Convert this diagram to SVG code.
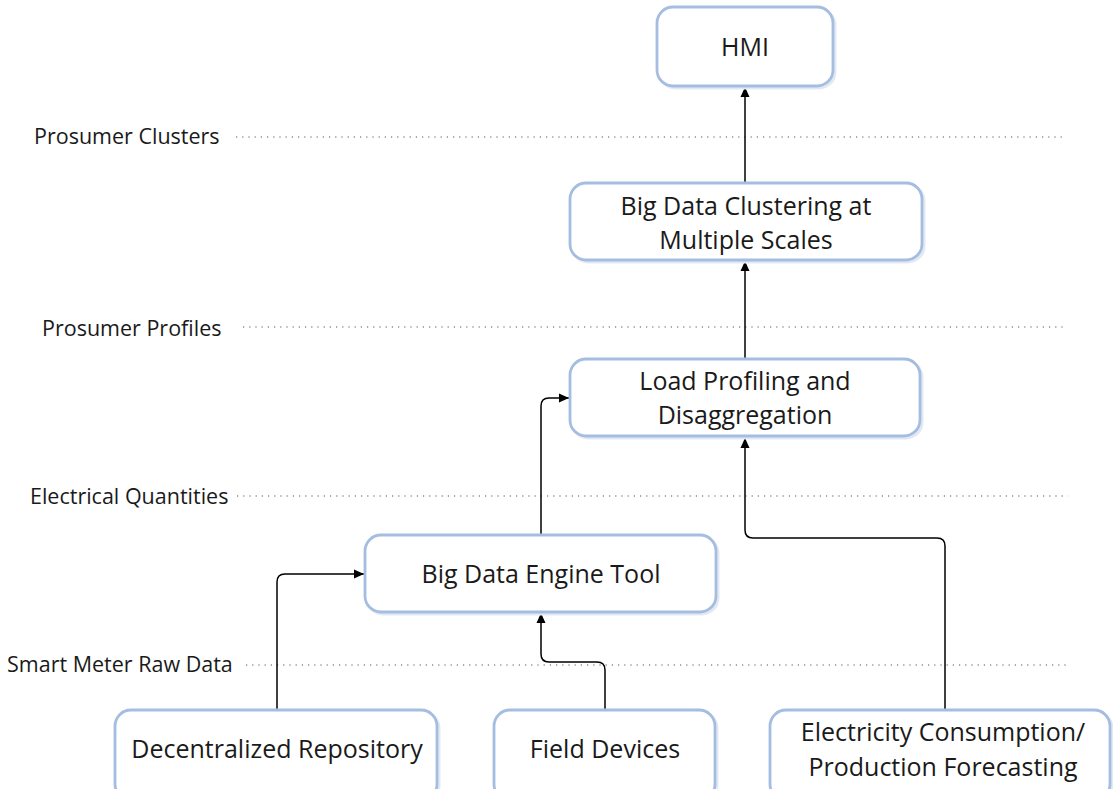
<svg xmlns="http://www.w3.org/2000/svg" width="1113" height="789" viewBox="0 0 1113 789">
  <style>
    .box { fill: #ffffff; stroke: #a4bde0; stroke-width: 2.8; }
    .shadow { fill: none; stroke: #e3e9f2; stroke-width: 3; }
    .label { font-family: "Open Sans", "Liberation Sans", sans-serif; font-size: 25px; fill: #1a1a1a; text-anchor: middle; }
    .layer { font-family: "Open Sans", "Liberation Sans", sans-serif; font-size: 21.5px; fill: #1a1a1a; }
    .dots { stroke: #555; stroke-width: 1.2; stroke-dasharray: 1.2 5; fill: none; }
    .conn { stroke: #000; stroke-width: 1.5; fill: none; }
  </style>
  <defs>
    <marker id="arrow" markerWidth="11" markerHeight="11" refX="10" refY="5.5" orient="auto" markerUnits="userSpaceOnUse">
      <path d="M0,1 L10,5.5 L0,10 z" fill="#000"/>
    </marker>
  </defs>

  <rect width="1113" height="789" fill="#ffffff"/>

  <!-- layer guides -->
  <g id="layers">
    <text class="layer" x="34" y="144">Prosumer Clusters</text>
    <line class="dots" x1="236" y1="137" x2="1066" y2="137"/>
    <text class="layer" x="42" y="336">Prosumer Profiles</text>
    <line class="dots" x1="243" y1="327" x2="1066" y2="327"/>
    <text class="layer" x="30" y="504">Electrical Quantities</text>
    <line class="dots" x1="237" y1="496" x2="1068" y2="496"/>
    <text class="layer" x="7" y="672">Smart Meter Raw Data</text>
    <line class="dots" x1="246" y1="665" x2="1068" y2="665"/>
  </g>

  <!-- connectors -->
  <g id="connectors">
    <line class="conn" x1="745" y1="183" x2="745" y2="87" marker-end="url(#arrow)"/>
    <line class="conn" x1="745" y1="359" x2="745" y2="261" marker-end="url(#arrow)"/>
    <path class="conn" d="M541,535 V406 Q541,398 549,398 H569" marker-end="url(#arrow)"/>
    <path class="conn" d="M945,710 V546 Q945,538 937,538 H753 Q745,538 745,530 V438" marker-end="url(#arrow)"/>
    <path class="conn" d="M277,710 V582 Q277,574 285,574 H364" marker-end="url(#arrow)"/>
    <path class="conn" d="M605,710 V670 Q605,662 597,662 H549 Q541,662 541,654 V613" marker-end="url(#arrow)"/>
  </g>

  <g id="hmi">
    <rect class="shadow" x="659" y="9" width="176" height="79" rx="16"/>
    <rect class="box" x="657" y="7" width="176" height="79" rx="16"/>
    <text class="label" x="745" y="56">HMI</text>
  </g>

  <g id="clustering">
    <rect class="shadow" x="572" y="185" width="352" height="77" rx="16"/>
    <rect class="box" x="570" y="183" width="352" height="77" rx="16"/>
    <text class="label" x="746" y="215">Big Data Clustering at</text>
    <text class="label" x="746" y="249">Multiple Scales</text>
  </g>

  <g id="load-profiling">
    <rect class="shadow" x="572" y="361" width="350" height="77" rx="16"/>
    <rect class="box" x="570" y="359" width="350" height="77" rx="16"/>
    <text class="label" x="745" y="390">Load Profiling and</text>
    <text class="label" x="745" y="424">Disaggregation</text>
  </g>

  <g id="engine">
    <rect class="shadow" x="367" y="537" width="351" height="77" rx="16"/>
    <rect class="box" x="365" y="535" width="351" height="77" rx="16"/>
    <text class="label" x="541" y="583">Big Data Engine Tool</text>
  </g>

  <g id="repository">
    <rect class="shadow" x="117" y="712" width="322" height="90" rx="16"/>
    <rect class="box" x="115" y="710" width="322" height="90" rx="16"/>
    <text class="label" x="277" y="758">Decentralized Repository</text>
  </g>

  <g id="field-devices">
    <rect class="shadow" x="496" y="712" width="221" height="90" rx="16"/>
    <rect class="box" x="494" y="710" width="221" height="90" rx="16"/>
    <text class="label" x="605" y="758">Field Devices</text>
  </g>

  <g id="forecasting">
    <rect class="shadow" x="772" y="712" width="340" height="90" rx="16"/>
    <rect class="box" x="770" y="710" width="340" height="90" rx="16"/>
    <text class="label" x="943" y="741">Electricity Consumption/</text>
    <text class="label" x="943" y="776">Production Forecasting</text>
  </g>
</svg>
